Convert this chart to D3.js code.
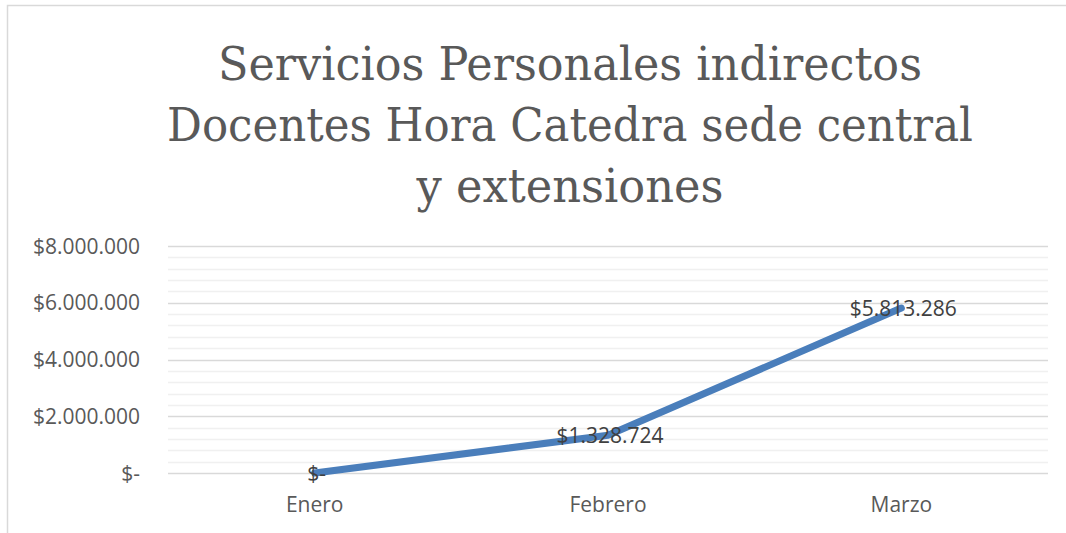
<!DOCTYPE html>
<html><head><meta charset="utf-8">
<script src="https://cdn.jsdelivr.net/npm/d3@7"></script>
<style>body{margin:0;background:#fff}svg{display:block}</style>
</head><body>
<svg id="c" width="1066" height="533"></svg>
<script>
const categories = ["Enero", "Febrero", "Marzo"];
const values = [0, 1328724, 5813286];
const valueLabels = ["$-", "$1.328.724", "$5.813.286"];
const yTicks = [0, 2000000, 4000000, 6000000, 8000000];
const yTickLabels = ["$-", "$2.000.000", "$4.000.000", "$6.000.000", "$8.000.000"];
const titleLines = ["Servicios Personales indirectos", "Docentes Hora Catedra sede central", "y extensiones"];

const svg = d3.select("#c");
// chart border
svg.append("path").attr("d","M7.5,533 V5.5 H1066").attr("fill","none").attr("stroke","#d9d9d9").attr("stroke-width",1.5);

const x = d3.scaleBand().domain(categories).range([168,1048]);
const y = d3.scaleLinear().domain([0,8000000]).range([473,246]);

// minor gridlines
const minor = d3.range(0, 8000001, 400000).filter(v => v % 2000000 !== 0);
svg.append("g").selectAll("line").data(minor).join("line")
  .attr("x1",168).attr("x2",1048).attr("y1",d=>Math.round(y(d))+0.5).attr("y2",d=>Math.round(y(d))+0.5)
  .attr("stroke","#f0f0f0").attr("stroke-width",1.5);
// major gridlines
svg.append("g").selectAll("line").data(yTicks).join("line")
  .attr("x1",168).attr("x2",1048).attr("y1",d=>Math.round(y(d))+0.5).attr("y2",d=>Math.round(y(d))+0.5)
  .attr("stroke","#d9d9d9").attr("stroke-width",1.5);

// y labels
svg.append("g").selectAll("text").data(yTicks).join("text")
  .attr("x",140).attr("y",d=>y(d)+7.5).attr("text-anchor","end")
  .attr("font-family","Open Sans, sans-serif").attr("font-size",21).attr("fill","#595959")
  .text((d,i)=>yTickLabels[i]);

// x labels
svg.append("g").selectAll("text").data(categories).join("text")
  .attr("x",d=>x(d)+x.bandwidth()/2).attr("y",512).attr("text-anchor","middle")
  .attr("font-family","Open Sans, sans-serif").attr("font-size",21).attr("fill","#595959")
  .text(d=>d);

// line
const line = d3.line().x((d,i)=>x(categories[i])+x.bandwidth()/2).y(d=>y(d));
svg.append("path").datum(values).attr("d",line).attr("fill","none")
  .attr("stroke","#4a7ebb").attr("stroke-width",7).attr("stroke-linejoin","round").attr("stroke-linecap","round");

// data labels
svg.append("g").selectAll("text").data(values).join("text")
  .attr("x",(d,i)=>x(categories[i])+x.bandwidth()/2+2).attr("y",d=>y(d)+8).attr("text-anchor","middle")
  .attr("font-family","Open Sans, sans-serif").attr("font-size",21).attr("fill","#404040")
  .text((d,i)=>valueLabels[i]);

// title
const tw = [704, 806, 307];
svg.append("g").selectAll("text").data(titleLines).join("text")
  .attr("x",570).attr("y",(d,i)=>80+i*61).attr("text-anchor","middle")
  .attr("font-family","DejaVu Serif, serif").attr("font-size",47).attr("fill","#595959")
  .attr("textLength",(d,i)=>tw[i]).attr("lengthAdjust","spacingAndGlyphs")
  .text(d=>d);
</script>
</body></html>
